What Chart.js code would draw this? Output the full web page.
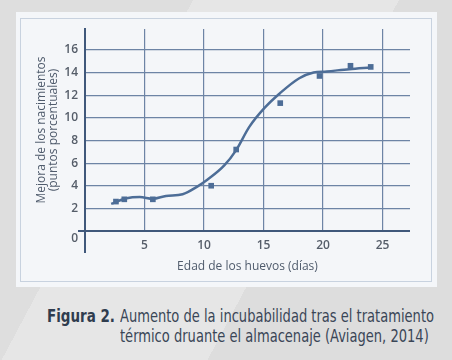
<!DOCTYPE html>
<html>
<head>
<meta charset="utf-8">
<script src="https://cdn.jsdelivr.net/npm/chart.js@4/dist/chart.umd.min.js"></script>
<style>
  html, body { margin: 0; padding: 0; }
  body {
    width: 452px; height: 360px; overflow: hidden; position: relative;
    background: linear-gradient(118deg, #dedede 0%, #dedede 30%, #e6e6e6 30%, #e6e6e6 62%, #dddddd 62%, #dddddd 100%);
    font-family: "Liberation Sans Narrow", "DejaVu Sans Condensed", "Liberation Sans", sans-serif;
  }
  #panel {
    position: absolute; left: 16px; top: 12px; width: 421px; height: 275px;
    background: #f4f6f9;
  }
  #inner {
    position: absolute; left: 20px; top: 18px; width: 412px; height: 264px;
    border: 1px solid #c8d2df; box-sizing: border-box;
  }
  #wrap { position: absolute; left: 0; top: 0; width: 452px; height: 290px; }
  .cap { position: absolute; color: #3a4657; font-size: 17px; line-height: 20px; white-space: nowrap; transform-origin: 0 0; }
  #fig { left: 47px; top: 306px; font-weight: bold; color: #2f3c4e; }
  #txt { left: 120px; top: 306px; }
</style>
</head>
<body>
<div id="panel"></div>
<div id="inner"></div>
<div id="wrap"><canvas id="c" width="452" height="290"></canvas></div>
<div class="cap" id="fig">Figura 2.</div>
<div class="cap" id="txt">Aumento de la incubabilidad tras el tratamiento<br>térmico druante el almacenaje (Aviagen, 2014)</div>
<script>
// ---- data ----
const pointX = [2.6, 3.3, 5.7, 10.6, 12.7, 16.4, 19.7, 22.3, 24.0];
const pointY = [2.6, 2.8, 2.8, 4.0, 7.2, 11.3, 13.7, 14.6, 14.5];
const curveX = [2.2, 3.5, 4.6, 5.7, 6.8, 8.2, 9.4, 10.3, 11.7, 12.7, 13.8, 15.1, 16.4, 18.0, 19.2, 20.3, 22.2, 24.0];
const curveY = [2.4, 2.9, 3.0, 2.85, 3.1, 3.25, 3.9, 4.55, 5.8, 7.15, 9.2, 10.9, 12.2, 13.5, 14.0, 14.1, 14.3, 14.45];
const xTicks = [0, 5, 10, 15, 20, 25];
const yTicks = [0, 2, 4, 6, 8, 10, 12, 14, 16];
const xTitle = 'Edad de los huevos (días)';
const yTitle = ['Mejora de los nacimientos', '(puntos porcentuales)'];

const axisColor = '#40587b';
const gridColor = '#6d84a5';
const markColor = '#4d6d97';
const tickFont = { family: 'Open Sans', size: 12, weight: '600' };
const titleFont = { family: 'Open Sans', size: 12, lineHeight: 1.0 };

function fitWidth(id, target) {
  const el = document.getElementById(id);
  const w = el.getBoundingClientRect().width;
  el.style.transform = 'scaleX(' + (target / w) + ')';
}
fitWidth('txt', 314);
fitWidth('fig', 68);

new Chart(document.getElementById('c'), {
  type: 'scatter',
  data: {
    datasets: [
      {
        type: 'line',
        data: curveX.map((x, i) => ({ x, y: curveY[i] })),
        borderColor: markColor,
        borderWidth: 2.5,
        pointRadius: 0,
        cubicInterpolationMode: 'monotone',
        fill: false
      },
      {
        data: pointX.map((x, i) => ({ x, y: pointY[i] })),
        pointStyle: 'rect',
        pointRadius: 4,
        backgroundColor: markColor,
        borderColor: markColor,
        borderWidth: 0
      }
    ]
  },
  options: {
    animation: false,
    responsive: false,
    layout: { padding: { left: 36, top: 29, right: 42, bottom: 14 } },
    plugins: { legend: { display: false }, tooltip: { enabled: false } },
    scales: {
      x: {
        type: 'linear', min: 0, max: 27.3,
        afterBuildTicks: s => { s.ticks = xTicks.map(v => ({ value: v })); },
        afterFit: s => { s.height = 45; },
        border: { display: false },
        grid: {
          color: c => c.tick && c.tick.value === 0 ? axisColor : gridColor,
          lineWidth: c => c.tick && c.tick.value === 0 ? 2 : 1.2,
          tickColor: c => c.tick && c.tick.value === 0 ? axisColor : 'rgba(0,0,0,0)',
          tickLength: 22
        },
        ticks: {
          padding: -15,
          autoSkip: false,
          color: '#555d69',
          font: tickFont,
          maxRotation: 0,
          callback: v => v === 0 ? '' : String(v)
        },
        title: { display: true, text: xTitle, color: '#4f5b6c', font: titleFont, padding: { top: 0, bottom: 3 } }
      },
      y: {
        type: 'linear', min: 0, max: 17.85,
        afterBuildTicks: s => { s.ticks = yTicks.map(v => ({ value: v })); },
        afterFit: s => { s.width = 49; },
        border: { display: true, color: axisColor, width: 2 },
        grid: {
          color: c => c.tick && c.tick.value === 0 ? axisColor : gridColor,
          lineWidth: c => c.tick && c.tick.value === 0 ? 2 : 1.2,
          tickColor: c => c.tick && c.tick.value === 0 ? axisColor : 'rgba(0,0,0,0)',
          tickLength: 7
        },
        ticks: {
          padding: 0,
          autoSkip: false,
          color: '#555d69',
          font: tickFont,
          callback: v => v === 0 ? ['', '0'] : String(v)
        },
        title: { display: true, text: yTitle, color: '#4f5b6c', font: titleFont, padding: { top: 0, bottom: 0 } }
      }
    }
  }
});
</script>
</body>
</html>
